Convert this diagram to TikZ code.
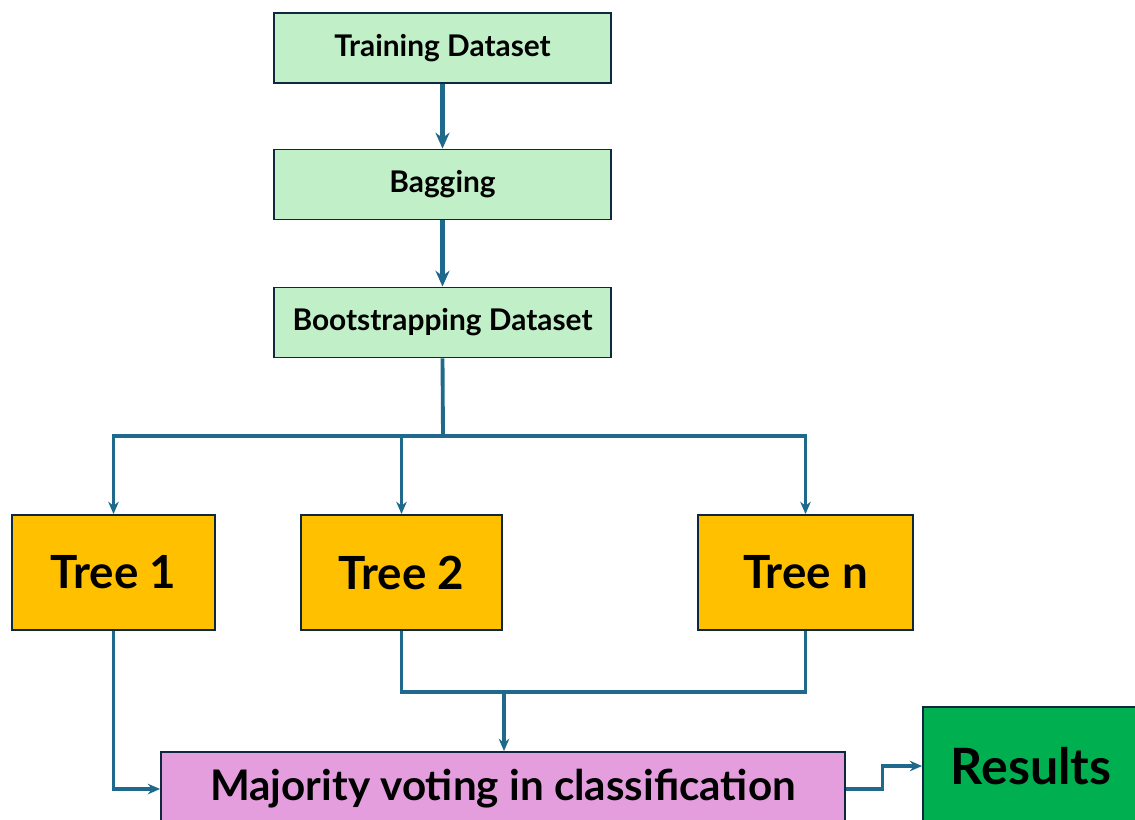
\documentclass[tikz,border=0pt]{standalone}
\usepackage{fontspec}
\setmainfont{Lato}
\usetikzlibrary{arrows.meta}
\definecolor{dataGreen}{HTML}{C1F0C8}
\definecolor{treeOrange}{HTML}{FFC000}
\definecolor{votePink}{HTML}{E49EDD}
\definecolor{resGreen}{HTML}{00B050}
\definecolor{linkBlue}{HTML}{1F6A8C}
\definecolor{boxLine}{HTML}{0E2841}
\begin{document}
\begin{tikzpicture}[x=0.02cm,y=-0.02cm,
  box/.style={draw=boxLine,line width=1.1pt,inner sep=0pt,font=\bfseries},
  databox/.style={box,fill=dataGreen,minimum width=6.74cm,minimum height=1.4cm,font=\bfseries\fontsize{17}{20}\selectfont},
  treebox/.style={box,fill=treeOrange,minimum height=2.3cm,font=\bfseries\fontsize{26}{30}\selectfont},
  link/.style={draw=linkBlue,line width=1.8pt,-{Stealth[length=7pt,width=6pt]}},
  biglink/.style={draw=linkBlue,line width=2.8pt,-{Stealth[length=9pt,width=8pt]}}]
  \useasboundingbox (0,0) rectangle (1135,819);
  % upper chain
  \node[databox] (train) at (442.5,48) {Training Dataset};
  \node[databox] (bag) at (442.5,184.5) {Bagging};
  \node[databox] (boot) at (442.5,322.5) {Bootstrapping Dataset};
  % trees
  \node[treebox,minimum width=4.06cm] (t1) at (113.5,572.5) {Tree 1};
  \node[treebox,minimum width=4.02cm] (t2) at (401.5,572.5) {Tree 2};
  \node[treebox,minimum width=4.3cm] (tn) at (805.5,572.5) {Tree n};
  % voting and results
  \node[box,fill=votePink,minimum width=13.68cm,minimum height=1.48cm,font=\bfseries\fontsize{24}{28}\selectfont] (vote) at (503,789) {Majority voting in classification};
  \node[box,fill=resGreen,minimum width=4.32cm,minimum height=2.36cm,font=\bfseries\fontsize{28.5}{32}\selectfont] (res) at (1031,766) {Results};
  \coordinate (split) at (443,436);
  \coordinate (join) at (504,692);
  \draw[biglink] (train) -- (bag);
  \draw[biglink] (bag) -- (boot);
  \draw[link,-,line width=2.2pt] (boot.south) -- (split);
  \draw[link] (split) -| (t1.north);
  \draw[link] (split) -| (t2.north);
  \draw[link] (split) -| (tn.north);
  \draw[link,-] (t2.south) |- (tn.south |- join) -- (tn.south);
  \draw[link] (join) -- (join |- vote.north);
  \draw[link] (t1.south) |- (vote.west);
  \draw[link] (vote.east) -- ++(37,0) |- (res.west);
\end{tikzpicture}
\end{document}
